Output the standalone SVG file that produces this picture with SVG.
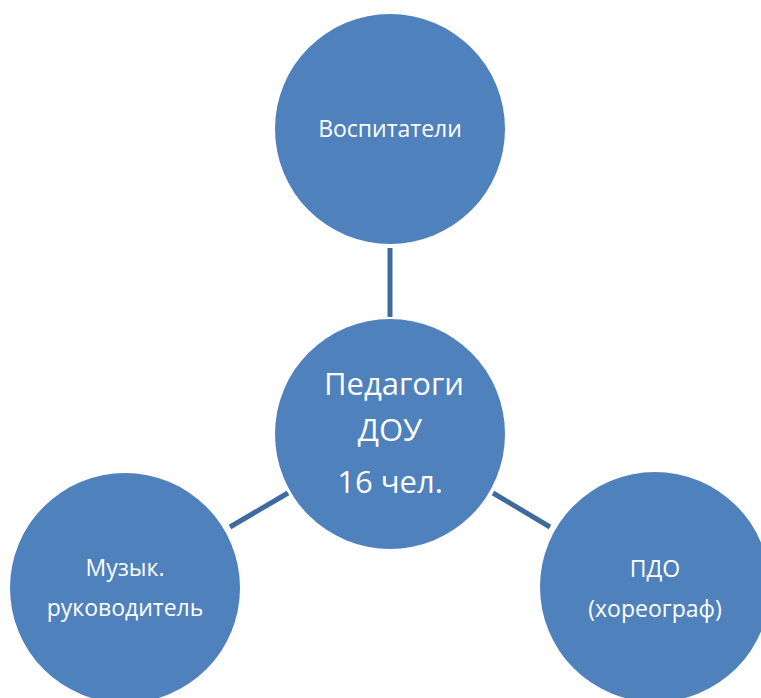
<svg xmlns="http://www.w3.org/2000/svg" width="761" height="698" viewBox="0 0 761 698">
<style>
.node{fill:#4F81BD;}
.lbl{fill:#FFFFFF;font-family:"Open Sans","Noto Sans","Liberation Sans",sans-serif;text-anchor:middle;}
.small{font-size:23px;}
.big{font-size:31px;}
.conn{stroke:#3F6A9E;stroke-width:5;fill:none;}
</style>
<rect width="761" height="698" fill="#FFFFFF"/>
<g id="connectors">
<line class="conn" x1="390" y1="248" x2="390" y2="317"/>
<line class="conn" x1="230" y1="527" x2="288" y2="493"/>
<line class="conn" x1="493" y1="493" x2="550" y2="527"/>
</g>
<g id="node-top">
<circle class="node" cx="390" cy="129" r="115"/>
<text class="lbl small" x="390" y="137">Воспитатели</text>
</g>
<g id="node-center">
<circle class="node" cx="390" cy="434" r="115"/>
<text class="lbl big" x="394" y="395">Педагоги</text>
<text class="lbl big" x="390" y="441">ДОУ</text>
<text class="lbl big" x="390" y="493">16 чел.</text>
</g>
<g id="node-left">
<circle class="node" cx="125" cy="588" r="115"/>
<text class="lbl small" x="125" y="576">Музык.</text>
<text class="lbl small" x="125" y="616">руководитель</text>
</g>
<g id="node-right">
<circle class="node" cx="655" cy="587" r="115"/>
<text class="lbl small" x="655" y="577">ПДО</text>
<text class="lbl small" x="655" y="617">(хореограф)</text>
</g>
</svg>
